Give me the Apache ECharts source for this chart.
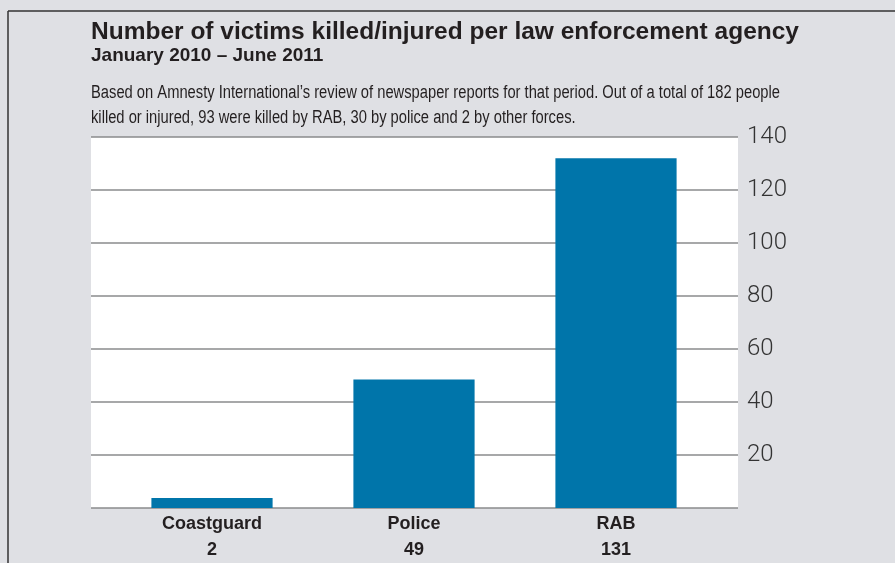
<!DOCTYPE html>
<html>
<head>
<meta charset="utf-8">
<script src="https://cdn.jsdelivr.net/npm/echarts@6/dist/echarts.min.js"></script>
<style>
  html, body { margin: 0; padding: 0; background: #dfe0e4; }
  #main { width: 895px; height: 563px; }
</style>
</head>
<body>
<div id="main"></div>
<script>
// data
const agencies = ['Coastguard', 'Police', 'RAB'];
const barValues = [3.8, 48.5, 132];      // bar heights as drawn
const countLabels = ['2', '49', '131'];  // numbers printed under the bars
const yTicks = [20, 40, 60, 80, 100, 120, 140];

const titleText = 'Number of victims killed/injured per law enforcement agency';
const subtitleText = 'January 2010 \u2013 June 2011';
const noteLines = [
    'Based on Amnesty International\u2019s review of newspaper reports for that period. Out of a total of 182 people',
    'killed or injured, 93 were killed by RAB, 30 by police and 2 by other forces.'
];

const chart = echarts.init(document.getElementById('main'));

const BAR = '#0075aa';
const INK = '#231f20';
const GRIDLINE = '#8a8b8d';

// the note is set in a condensed face; squeeze Liberation Sans to the same width
const NOTE_FONT = '18px "Liberation Sans"';
const ctx = document.createElement('canvas').getContext('2d');
ctx.font = NOTE_FONT;
const noteScale = 689 / ctx.measureText(noteLines[0]).width;

const noteGraphics = noteLines.map((t, i) => ({
    type: 'text',
    x: 91, y: 93 + i * 25,
    scaleX: noteScale,
    style: { text: t, font: NOTE_FONT, fill: INK, verticalAlign: 'middle', align: 'left' }
}));

chart.setOption({
    backgroundColor: '#dfe0e4',
    animation: false,
    title: [
        {
            text: titleText,
            left: 86, top: 15,
            textStyle: { fontFamily: 'Liberation Sans', fontWeight: 'bold', fontSize: 24.5, color: INK }
        },
        {
            text: subtitleText,
            left: 86, top: 41,
            textStyle: { fontFamily: 'Liberation Sans', fontWeight: 'bold', fontSize: 19, color: INK }
        }
    ],
    graphic: [
        // frame lines (left and top)
        { type: 'line', shape: { x1: 8, y1: 11, x2: 895, y2: 11 }, style: { stroke: '#333', lineWidth: 1.5 } },
        { type: 'line', shape: { x1: 8, y1: 11, x2: 8, y2: 563 }, style: { stroke: '#333', lineWidth: 1.5 } }
    ].concat(noteGraphics),
    grid: [
        // white panel with gridlines and right-side scale
        { left: 91, right: 157, top: 137, bottom: 55, show: true, backgroundColor: '#fff', borderWidth: 0 },
        // bars
        { left: 111, right: 178, top: 137, bottom: 55 }
    ],
    xAxis: [
        { gridIndex: 0, type: 'value', show: false, min: 0, max: 1 },
        {
            gridIndex: 1,
            type: 'category',
            data: agencies,
            axisLine: { show: false },
            axisTick: { show: false },
            axisLabel: {
                margin: 3,
                formatter: (v, i) => '{a|' + v + '}\n{b|' + countLabels[i] + '}',
                rich: {
                    a: { fontFamily: 'Liberation Sans', fontWeight: 'bold', fontSize: 18, color: INK, lineHeight: 26 },
                    b: { fontFamily: 'Liberation Sans', fontWeight: 'bold', fontSize: 18, color: INK, lineHeight: 26 }
                }
            }
        }
    ],
    yAxis: [
        {
            gridIndex: 0,
            type: 'value',
            position: 'right',
            min: 0, max: 140, interval: 20,
            axisLine: { show: false },
            axisTick: { show: false },
            splitLine: { show: true, lineStyle: { color: GRIDLINE, width: 1.5 } },
            axisLabel: {
                margin: 9,
                fontFamily: 'Roboto', fontWeight: 300, fontSize: 24, color: '#333',
                formatter: v => (yTicks.indexOf(v) >= 0 ? String(v) : '')
            }
        },
        { gridIndex: 1, type: 'value', min: 0, max: 140, show: false }
    ],
    series: [
        {
            type: 'bar',
            xAxisIndex: 1, yAxisIndex: 1,
            data: barValues,
            barWidth: '60%',
            itemStyle: { color: BAR },
            z: 3
        }
    ]
});
</script>
</body>
</html>
